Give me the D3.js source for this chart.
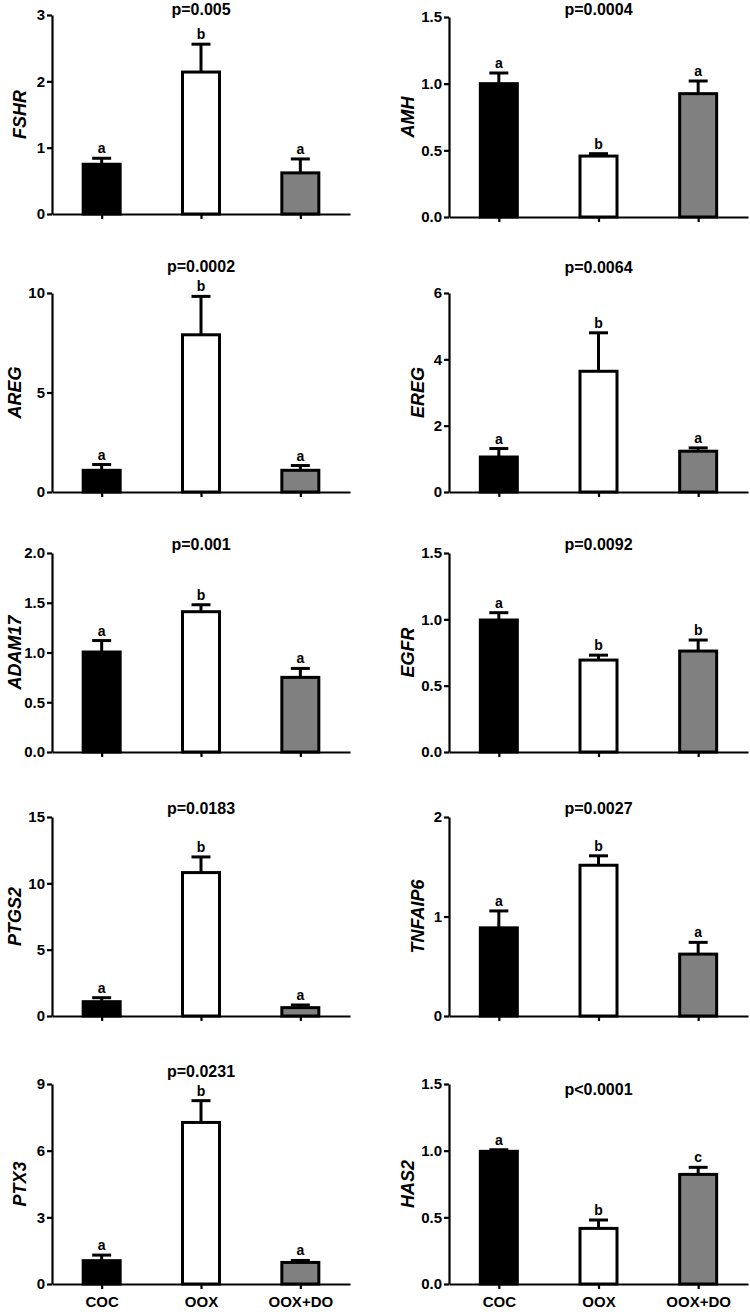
<!DOCTYPE html>
<html><head><meta charset="utf-8">
<script src="https://cdn.jsdelivr.net/npm/d3@7"></script>
<style>
body{margin:0;background:#fff;}
svg{display:block;}
text{font-family:"Liberation Sans",Arial,Helvetica,sans-serif;font-weight:bold;fill:#000;}
</style></head><body>
<svg id="chart" width="750" height="1312"></svg>
<script>
// ---- data ----
const genes = ["FSHR","AMH","AREG","EREG","ADAM17","EGFR","PTGS2","TNFAIP6","PTX3","HAS2"];
const pLabels = ["p=0.005","p=0.0004","p=0.0002","p=0.0064","p=0.001","p=0.0092","p=0.0183","p=0.0027","p=0.0231","p<0.0001"];
const groups = ["COC","OOX","OOX+DO"];
const cocMean   = [0.75, 1.00, 1.09, 1.055, 1.005, 0.995, 1.08, 0.886, 1.05, 0.995];
const cocSem    = [0.09, 0.08, 0.29, 0.255, 0.115, 0.055, 0.30, 0.17, 0.25, 0.012];
const ooxMean   = [2.14, 0.457, 7.9, 3.64, 1.41, 0.693, 10.81, 1.515, 7.27, 0.417];
const ooxSem    = [0.42, 0.018, 1.93, 1.16, 0.07, 0.037, 1.18, 0.095, 0.98, 0.063];
const ooxdoMean = [0.62, 0.925, 1.09, 1.23, 0.75, 0.761, 0.63, 0.622, 0.97, 0.822];
const ooxdoSem  = [0.21, 0.095, 0.24, 0.10, 0.09, 0.083, 0.20, 0.118, 0.09, 0.053];
const cocLetters   = ["a","a","a","a","a","a","a","a","a","a"];
const ooxLetters   = ["b","b","b","b","b","b","b","b","b","b"];
const ooxdoLetters = ["a","a","a","a","a","b","a","a","a","c"];
const yTicks = [[0,1,2,3],[0,0.5,1,1.5],[0,5,10],[0,2,4,6],[0,0.5,1,1.5,2],[0,0.5,1,1.5],[0,5,10,15],[0,1,2],[0,3,6,9],[0,0.5,1,1.5]];
const groupColors = ["#000000","#ffffff","#808080"];

// ---- layout ----
const colAxisX = [52, 449];
const colEndX = [350, 748];
const panelTop    = [15, 17, 293, 293, 553, 553, 817, 817, 1084, 1084];
const panelBottom = [214, 217, 492, 492, 752, 752, 1016, 1016, 1284, 1284];
const pOffset     = [-6, -8, -27, -26, -9, -9, -9, -9, -13, 5];
const yLabelX     = [20, 408, 15, 418, 15, 408, 15, 418, 20, 408];
const barW = 37, capW = 19;

const svg = d3.select("#chart");

genes.forEach((gene, i) => {
  const col = i % 2, row = Math.floor(i / 2);
  const ticks = yTicks[i];
  const yMax = ticks[ticks.length - 1];
  const step = ticks[1] - ticks[0];
  const g = svg.append("g");
  const y = d3.scaleLinear().domain([0, yMax]).range([panelBottom[i], panelTop[i]]);
  const x = d3.scalePoint().domain(groups).range([colAxisX[col], colEndX[col]]).padding(0.5);

  const data = [
    {grp: groups[0], m: cocMean[i], s: cocSem[i], l: cocLetters[i], c: groupColors[0]},
    {grp: groups[1], m: ooxMean[i], s: ooxSem[i], l: ooxLetters[i], c: groupColors[1]},
    {grp: groups[2], m: ooxdoMean[i], s: ooxdoSem[i], l: ooxdoLetters[i], c: groupColors[2]}
  ];

  // error bars
  g.selectAll(".err").data(data).join("line")
    .attr("x1", d => x(d.grp)).attr("x2", d => x(d.grp))
    .attr("y1", d => y(d.m)).attr("y2", d => y(d.m + d.s))
    .attr("stroke", "#000").attr("stroke-width", 3);
  g.selectAll(".cap").data(data).join("line")
    .attr("x1", d => x(d.grp) - capW / 2).attr("x2", d => x(d.grp) + capW / 2)
    .attr("y1", d => y(d.m + d.s)).attr("y2", d => y(d.m + d.s))
    .attr("stroke", "#000").attr("stroke-width", 3);

  // bars
  g.selectAll(".bar").data(data).join("rect")
    .attr("x", d => x(d.grp) - barW / 2).attr("width", barW)
    .attr("y", d => y(d.m)).attr("height", d => y(0) - y(d.m))
    .attr("fill", d => d.c).attr("stroke", "#000").attr("stroke-width", 3);

  // letters
  g.selectAll(".let").data(data).join("text")
    .attr("x", d => x(d.grp)).attr("y", d => y(d.m + d.s) - 5)
    .attr("text-anchor", "middle").attr("font-size", 14).text(d => d.l);

  // y axis
  const fmt = step < 1 ? d3.format(".1f") : d3.format("d");
  const ya = g.append("g").attr("transform", `translate(${colAxisX[col]},0)`)
    .call(d3.axisLeft(y).tickValues(ticks).tickFormat(fmt).tickSize(5).tickSizeOuter(0));
  ya.select(".domain").attr("stroke-width", 2.2);
  ya.selectAll(".tick line").attr("stroke-width", 2.2);
  ya.selectAll(".tick text").attr("font-size", 15).attr("font-family", "Liberation Sans, Arial, sans-serif")
    .attr("font-weight", "bold").attr("x", -7);

  // x axis
  const xa = g.append("g").attr("transform", `translate(0,${panelBottom[i]})`)
    .call(d3.axisBottom(x).tickSize(5).tickSizeOuter(0).tickFormat(row === 4 ? (d => d) : () => ""));
  xa.select(".domain").attr("stroke-width", 2.2);
  xa.selectAll(".tick line").attr("stroke-width", 2.2);
  xa.selectAll(".tick text").attr("font-size", 15).attr("font-family", "Liberation Sans, Arial, sans-serif")
    .attr("font-weight", "bold").attr("dy", "0.71em").attr("y", 12);

  // y label
  g.append("text")
    .attr("transform", `translate(${yLabelX[i]},${(panelTop[i] + panelBottom[i]) / 2}) rotate(-90)`)
    .attr("text-anchor", "middle").attr("dy", "0.35em")
    .attr("font-size", 18).attr("font-style", "italic").text(gene);

  // p value
  g.append("text")
    .attr("x", x(groups[1])).attr("y", panelTop[i] + pOffset[i])
    .attr("text-anchor", "middle").attr("dy", "0.35em")
    .attr("font-size", 16).text(pLabels[i]);
});
</script>
</body></html>
